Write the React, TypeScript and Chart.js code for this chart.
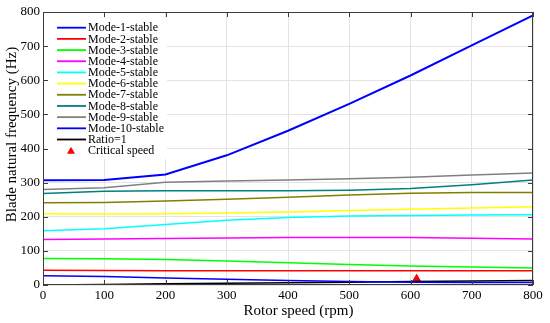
import { useEffect, useRef } from "react";
import { Chart, registerables } from "chart.js";
Chart.register(...registerables);

const rotorSpeed = [0, 100, 200, 300, 400, 500, 600, 700, 800];
const mode1 = [27, 24.6, 20.7, 16.8, 13, 10, 8, 7, 7];
const mode2 = [43, 42.5, 42, 42, 42, 42, 42, 42, 42];
const mode3 = [78, 77, 74.5, 70, 65, 60, 56, 53, 50];
const mode4 = [133.6, 134.6, 136, 138, 139, 139, 139, 137, 135];
const mode5 = [159, 165, 177.6, 190, 198, 202, 204, 205, 206];
const mode6 = [208.5, 208, 209, 211, 214, 218, 222, 226, 229];
const mode7 = [241, 242, 246, 251, 257, 264, 269, 271, 271];
const mode8 = [268, 275, 276, 276, 276, 278, 283, 294, 308];
const mode9 = [280, 285, 301, 305, 308, 311, 316, 322, 328];
const mode10 = [307, 308, 324, 380, 452, 531, 614, 702, 790];
const ratio1 = [0, 1.7, 3.3, 5, 6.7, 8.3, 10, 11.7, 13.3];
const criticalX = [610];
const criticalY = [18];

const seriesLabels = [
  "Mode-1-stable", "Mode-2-stable", "Mode-3-stable", "Mode-4-stable", "Mode-5-stable",
  "Mode-6-stable", "Mode-7-stable", "Mode-8-stable", "Mode-9-stable", "Mode-10-stable", "Ratio=1",
];
const seriesValues = [mode1, mode2, mode3, mode4, mode5, mode6, mode7, mode8, mode9, mode10, ratio1];
const seriesColors = [
  "#0000ff", "#ff0000", "#00ff00", "#ff00ff", "#00ffff",
  "#ffff00", "#808000", "#008080", "#808080", "#0000ff", "#000000",
];

const xTitle = "Rotor speed (rpm)";
const yTitle = "Blade natural frequency (Hz)";

const SERIF = "'Liberation Serif', 'Times New Roman', serif";

const boxPlugin = {
  id: "matlabBox",
  afterDraw(chart: any) {
    const { ctx, chartArea } = chart;
    const { left, right, top, bottom } = chartArea;
    const xs = chart.scales.x;
    const ys = chart.scales.y;
    ctx.save();
    // legend box
    const lx = 46, ly = 18, lw = 121, lh = 141;
    ctx.fillStyle = "#ffffff";
    ctx.fillRect(lx, ly, lw, lh);
    const rowH = 11.18;
    const y0 = 27.7;
    chart.data.datasets.forEach((ds: any, i: number) => {
      const yy = y0 + i * rowH;
      if (ds.showLine === false) {
        ctx.fillStyle = ds.pointBackgroundColor;
        ctx.beginPath();
        ctx.moveTo(71, yy - 4);
        ctx.lineTo(75, yy + 3);
        ctx.lineTo(67, yy + 3);
        ctx.closePath();
        ctx.fill();
      } else {
        ctx.strokeStyle = ds.borderColor;
        ctx.lineWidth = 1.8;
        ctx.beginPath();
        ctx.moveTo(57, yy);
        ctx.lineTo(86, yy);
        ctx.stroke();
      }
      ctx.fillStyle = "#000";
      ctx.font = `12px ${SERIF}`;
      ctx.textBaseline = "middle";
      ctx.textAlign = "left";
      ctx.fillText(ds.label, 88, yy + 0.5);
    });
    // box
    ctx.strokeStyle = "#3c3c3c";
    ctx.lineWidth = 1;
    ctx.strokeRect(left + 0.5, top + 0.5, right - left - 1, bottom - top - 1);
    // inward ticks
    const tl = 5;
    ctx.beginPath();
    xs.ticks.forEach((t: any) => {
      const px = Math.round(xs.getPixelForValue(t.value)) + 0.5;
      ctx.moveTo(px, bottom);
      ctx.lineTo(px, bottom - tl);
      ctx.moveTo(px, top);
      ctx.lineTo(px, top + tl);
    });
    ys.ticks.forEach((t: any) => {
      const py = Math.round(ys.getPixelForValue(t.value)) + 0.5;
      ctx.moveTo(left, py);
      ctx.lineTo(left + tl, py);
      ctx.moveTo(right, py);
      ctx.lineTo(right - tl, py);
    });
    ctx.stroke();
    // axis titles
    ctx.fillStyle = "#000";
    ctx.font = `15px ${SERIF}`;
    ctx.textAlign = "center";
    ctx.textBaseline = "middle";
    ctx.fillText(xTitle, 298.5, 311);
    ctx.translate(12.5, 134.5);
    ctx.rotate(-Math.PI / 2);
    ctx.fillText(yTitle, 0, 0);
    ctx.restore();
  },
};

export default function App() {
  const ref = useRef<HTMLCanvasElement | null>(null);
  useEffect(() => {
    if (!ref.current) return;
    const datasets: any[] = seriesLabels.map((label, i) => ({
      label,
      data: rotorSpeed.map((x, j) => ({ x, y: seriesValues[i][j] })),
      borderColor: seriesColors[i],
      backgroundColor: seriesColors[i],
      borderWidth: i === 9 ? 2 : 1.5,
      pointRadius: 0,
      tension: 0,
      fill: false,
    }));
    datasets.push({
      label: "Critical speed",
      data: criticalX.map((x, j) => ({ x, y: criticalY[j] })),
      showLine: false,
      pointStyle: "triangle",
      pointRadius: 4.5,
      pointBackgroundColor: "#ff0000",
      pointBorderColor: "#ff0000",
      borderColor: "#ff0000",
      backgroundColor: "#ff0000",
    });
    const chart = new Chart(ref.current, {
      type: "line",
      data: { datasets },
      options: {
        animation: false,
        responsive: true,
        maintainAspectRatio: false,
        layout: { padding: { top: 12, right: 17, left: 0, bottom: 0 } },
        plugins: { legend: { display: false }, tooltip: { enabled: false } },
        scales: {
          x: {
            type: "linear",
            min: 0,
            max: 800,
            afterFit: (s: any) => { s.height = 38; },
            ticks: { stepSize: 100, color: "#000", padding: 3, font: { family: SERIF, size: 13 } },
            grid: { color: "#e3e3e3", drawTicks: false },
            border: { display: false },
            title: { display: false },
          },
          y: {
            type: "linear",
            min: 0,
            max: 800,
            afterFit: (s: any) => { s.width = 43; },
            ticks: { stepSize: 100, color: "#000", padding: 3, font: { family: SERIF, size: 13 } },
            grid: { color: "#e3e3e3", drawTicks: false },
            border: { display: false },
            title: { display: false },
          },
        },
      },
      plugins: [boxPlugin],
    });
    return () => chart.destroy();
  }, []);
  return (
    <div style={{ position: "absolute", left: 0, top: 0, width: 550, height: 323, background: "#fff" }}>
      <canvas ref={ref} />
    </div>
  );
}
